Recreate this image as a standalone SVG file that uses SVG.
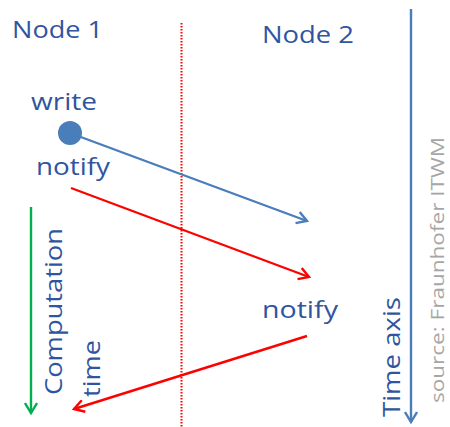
<svg xmlns="http://www.w3.org/2000/svg" width="450" height="427" viewBox="0 0 450 427">
<style>
.lbl{font-family:"Open Sans","Noto Sans","Liberation Sans",sans-serif;font-size:23px;fill:#2f55a0}
.src{font-family:"Open Sans","Noto Sans","Liberation Sans",sans-serif;font-size:19px;fill:#a6a6a6}
</style>
<defs>
<marker id="ar" viewBox="0 0 14 14" refX="12" refY="7" markerWidth="14" markerHeight="14" orient="auto" markerUnits="userSpaceOnUse">
<path d="M2,1 L12,7 L2,13" fill="none" stroke="#ff0000" stroke-width="2.4"/>
</marker>
<marker id="ab2" viewBox="0 0 14 14" refX="12" refY="7" markerWidth="14" markerHeight="14" orient="auto" markerUnits="userSpaceOnUse">
<path d="M2,1 L12,7 L2,13" fill="none" stroke="#4a7ebb" stroke-width="2.4"/>
</marker>
<marker id="ag" viewBox="0 0 14 14" refX="12" refY="7" markerWidth="14" markerHeight="14" orient="auto" markerUnits="userSpaceOnUse">
<path d="M2,1 L12,7 L2,13" fill="none" stroke="#00b050" stroke-width="2.4"/>
</marker>
</defs>
<rect width="450" height="427" fill="#ffffff"/>
<g id="divider">
<line x1="181.5" y1="23" x2="181.5" y2="427" stroke="#ff0000" stroke-width="2" stroke-dasharray="1.5 1.5"/>
</g>
<g id="node1"><text class="lbl" x="12" y="38" textLength="91" lengthAdjust="spacingAndGlyphs">Node 1</text></g>
<g id="node2"><text class="lbl" x="262" y="43" textLength="92" lengthAdjust="spacingAndGlyphs">Node 2</text></g>
<g id="write"><text class="lbl" x="31" y="110" textLength="66" lengthAdjust="spacingAndGlyphs">write</text>
<circle cx="70" cy="133" r="12" fill="#4a7ebb"/></g>
<g id="notify1"><text class="lbl" x="36" y="175" textLength="74" lengthAdjust="spacingAndGlyphs">notify</text></g>
<g id="notify2"><text class="lbl" x="262" y="318" textLength="76" lengthAdjust="spacingAndGlyphs">notify</text></g>
<g id="comp"><text class="lbl" transform="translate(62,395) rotate(-90)" textLength="167" lengthAdjust="spacingAndGlyphs">Computation</text>
<text class="lbl" transform="translate(100,397) rotate(-90)" textLength="57" lengthAdjust="spacingAndGlyphs">time</text></g>
<g id="timeaxis"><text class="lbl" transform="translate(400,417) rotate(-90)" textLength="120" lengthAdjust="spacingAndGlyphs">Time axis</text></g>
<g id="source"><text class="src" transform="translate(444,403) rotate(-90)" textLength="266" lengthAdjust="spacingAndGlyphs">source:  Fraunhofer ITWM</text></g>
<g id="connectors">
<line x1="70" y1="133" x2="307" y2="221" stroke="#4a7ebb" stroke-width="2.4" marker-end="url(#ab2)"/>
<line x1="71" y1="188" x2="309" y2="277" stroke="#ff0000" stroke-width="2.4" marker-end="url(#ar)"/>
<line x1="307" y1="336" x2="74" y2="409" stroke="#ff0000" stroke-width="2.4" marker-end="url(#ar)"/>
<line x1="31" y1="207" x2="31" y2="413" stroke="#00b050" stroke-width="2.4" marker-end="url(#ag)"/>
<line x1="411" y1="9" x2="411" y2="422" stroke="#4a7ebb" stroke-width="2.4" marker-end="url(#ab2)"/>
</g>
</svg>
